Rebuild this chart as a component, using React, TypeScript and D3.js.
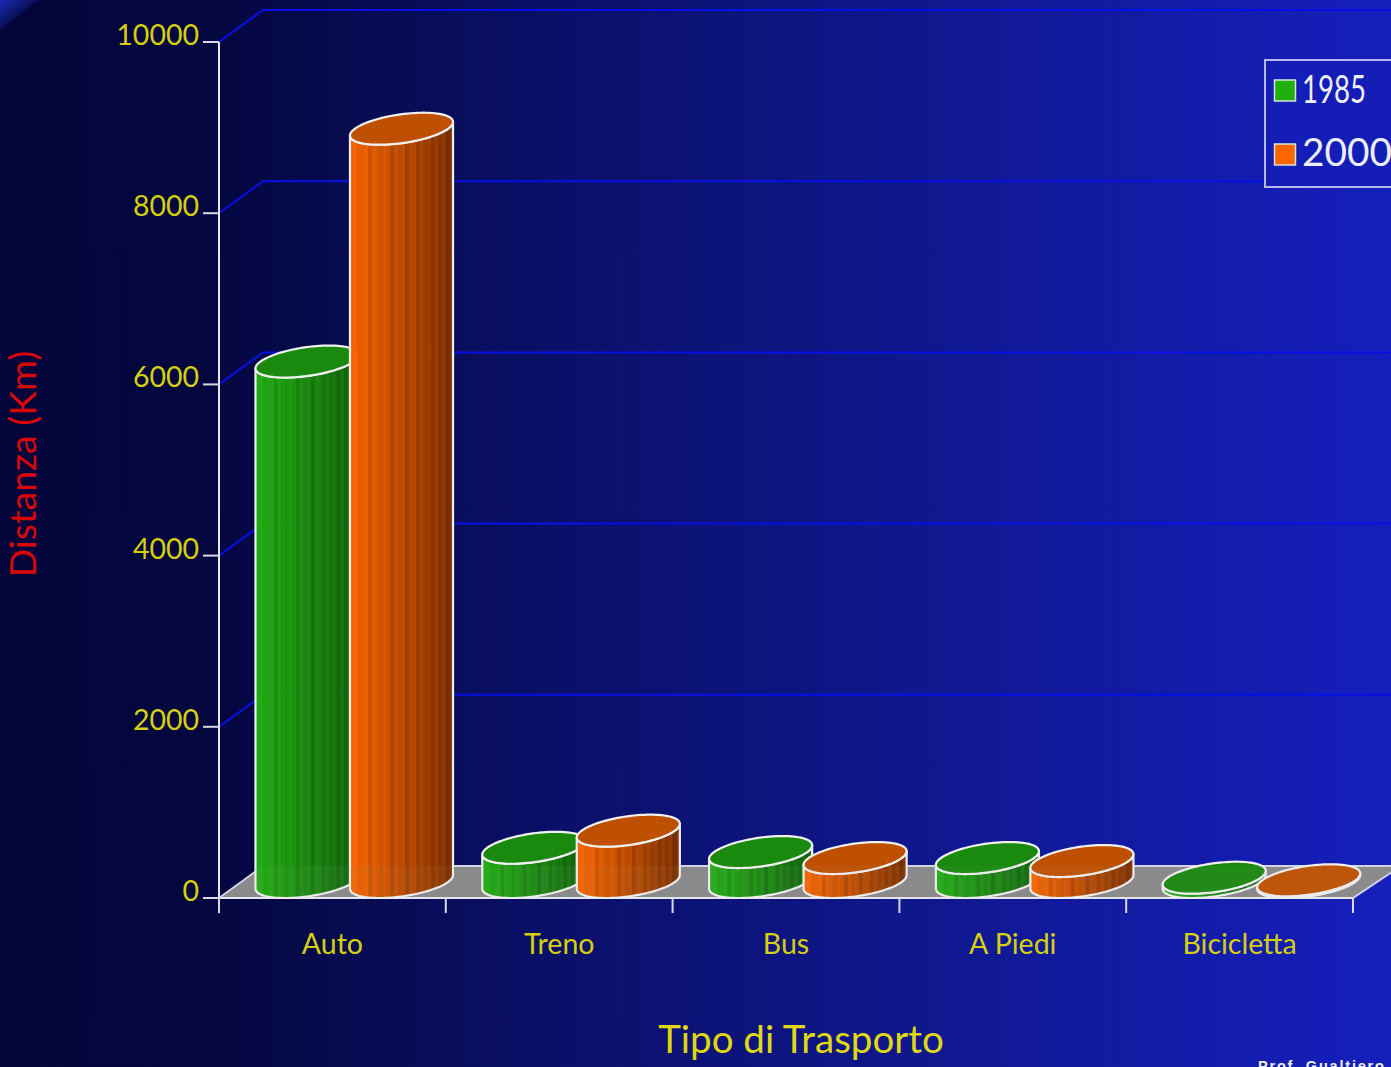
import React from "react";
import * as d3 from "d3";

// Distance travelled per transport mode, in km
const categories = ["Auto", "Treno", "Bus", "A Piedi", "Bicicletta"];
const seriesNames = ["1985", "2000"];
const values1985 = [6080, 400, 350, 280, 50];
const values2000 = [8800, 600, 280, 245, 20];
const yTicks = [0, 2000, 4000, 6000, 8000, 10000];

// Relative brightness of the cylinder facets, left to right
const facetShade = [
  0, 0.03, -0.03, 0, 0.04, -0.09, 0.03, 0, -0.04, 0.04, 0, -0.11, 0.03, -0.03, 0.03,
  -0.13, 0.02, 0.03, -0.09, 0.03, -0.06, 0.02, -0.12, 0.03, -0.07, 0.02, -0.14, 0,
];

const WIDTH = 1391;
const HEIGHT = 1067;
const FONT = "Lato, 'Noto Sans', sans-serif";
const YELLOW = "#d6cf0c";

// Oblique projection of the depth axis
const depthX = 44;
const depthY = 32;
const halfW = 46.6;

const palette = [
  { bright: "#22ab14", dark: "#146a0e", top: "#1a8a0e", swatch: "#1fb010" },
  { bright: "#f56400", dark: "#853400", top: "#bf5000", swatch: "#ff6600" },
];

const x = d3.scaleBand<string>().domain(categories).range([219, 1353]);
const y = d3.scaleLinear().domain([0, 10000]).range([898, 42]);

const rimX = (cx: number, t: number) => cx + halfW * Math.cos(t) + (depthX / 2) * Math.sin(t);
const rimY = (cy: number, t: number) => cy - (depthY / 2) * Math.sin(t);
const tRight = Math.atan2(depthX / 2, halfW);

const pathOf = d3.line<[number, number]>().curve(d3.curveLinear);

function rimArc(cx: number, cy: number, from: number, to: number, n: number): [number, number][] {
  return d3.range(n + 1).map((i) => {
    const t = from + ((to - from) * i) / n;
    return [rimX(cx, t), rimY(cy, t)] as [number, number];
  });
}

function Cylinder({ cx, value, s }: { cx: number; value: number; s: number }) {
  const baseY = y(0) - depthY / 2;
  const topY = y(value) - depthY / 2;
  const c = palette[s];
  const ramp = d3.interpolateRgb(c.bright, c.dark);
  const n = facetShade.length;
  // Visible front half of the rim, running from the left extreme to the right one
  const from = tRight - Math.PI;
  const to = tRight;
  const front = [...rimArc(cx, topY, to, from, 48), ...rimArc(cx, baseY, from, to, 48)];
  const facets = d3.range(n).map((i) => {
    const a = (Math.acos(1 - (2 * i) / n) / Math.PI) * (to - from) + from;
    const b = (Math.acos(1 - (2 * (i + 1)) / n) / Math.PI) * (to - from) + from;
    const col = d3.hsl(ramp(i / (n - 1)));
    col.l = col.l * (1 + facetShade[i]);
    const pts: [number, number][] = [
      [rimX(cx, a), rimY(topY, a)],
      [rimX(cx, b) + 0.5, rimY(topY, b)],
      [rimX(cx, b) + 0.5, rimY(baseY, b)],
      [rimX(cx, a), rimY(baseY, a)],
    ];
    return <path key={i} d={pathOf(pts) + "Z"} fill={col.formatHex()} />;
  });
  const topRim = rimArc(cx, topY, 0, 2 * Math.PI, 96);
  return (
    <g>
      {facets}
      <path d={pathOf(front) + "Z"} fill="none" stroke="#f0f0f0" strokeWidth={2.2} strokeLinejoin="round" />
      <path d={pathOf(topRim) + "Z"} fill={c.top} stroke="#f0f0f0" strokeWidth={2.2} strokeLinejoin="round" />
    </g>
  );
}

export default function App() {
  const edges = [...categories.map((d) => x(d) as number), 1353];
  const floor: [number, number][] = [
    [219, y(0)],
    [219 + depthX, y(0) - depthY],
    [WIDTH + 10, y(0) - depthY],
    [1353, y(0)],
  ];
  const slot = 94.5;
  const firstCentre = 36.5 + 51.5;
  return (
    <svg
      width={WIDTH}
      height={HEIGHT}
      viewBox={`0 0 ${WIDTH} ${HEIGHT}`}
      style={{ position: "absolute", left: 0, top: 0, display: "block" }}
      fontFamily={FONT}
    >
      <defs>
        <linearGradient id="bg" x1="0" x2="1" y1="0" y2="0">
          <stop offset="0" stopColor="#03053a" />
          <stop offset="0.15" stopColor="#04073f" />
          <stop offset="0.4" stopColor="#0a1068" />
          <stop offset="0.7" stopColor="#101893" />
          <stop offset="1" stopColor="#151fbc" />
        </linearGradient>
        <linearGradient id="corner" gradientUnits="userSpaceOnUse" x1={0} y1={0} x2={19} y2={24}>
          <stop offset="0" stopColor="#1c2cb8" />
          <stop offset="1" stopColor="#1c2cb8" stopOpacity={0} />
        </linearGradient>
      </defs>
      <rect width={WIDTH} height={HEIGHT} fill="url(#bg)" />
      <path d="M0,0H38L0,30Z" fill="url(#corner)" />

      {/* back wall grid */}
      {yTicks.filter((t) => t > 0).map((t) => (
        <path
          key={t}
          d={`M219,${y(t)}L${219 + depthX},${y(t) - depthY}H${WIDTH}`}
          fill="none"
          stroke="#0610e6"
          strokeWidth={2}
        />
      ))}

      {/* floor */}
      <path d={pathOf(floor) + "Z"} fill="#888888" stroke="#d4d6ee" strokeWidth={1.8} />

      {/* axes */}
      <path d={`M219,${y(10000)}V913`} stroke="#e8e8f4" strokeWidth={2} fill="none" />
      <path d={`M203,${y(0)}H1353`} stroke="#e8e8f4" strokeWidth={2} fill="none" />
      {yTicks.map((t) => (
        <g key={t}>
          <path d={`M203,${y(t)}H219`} stroke="#d8d8e8" strokeWidth={2} />
          <text x={199} y={y(t) + 3} textAnchor="end" fontSize={28.5} fill={YELLOW}>
            {t}
          </text>
        </g>
      ))}
      {edges.map((e) => (
        <path key={e} d={`M${e},${y(0)}V913`} stroke="#d8d8e8" strokeWidth={2} />
      ))}

      {/* cylinders */}
      {categories.map((cat, i) => (
        <g key={cat}>
          <Cylinder cx={(x(cat) as number) + firstCentre} value={values1985[i]} s={0} />
          <Cylinder cx={(x(cat) as number) + firstCentre + slot} value={values2000[i]} s={1} />
        </g>
      ))}
      <path d={pathOf(floor) + "Z"} fill="#a8a8a8" opacity={0.06} />

      {/* category labels */}
      {categories.map((cat) => (
        <text
          key={cat}
          x={(x(cat) as number) + (x.bandwidth() / 2)}
          y={954}
          textAnchor="middle"
          fontSize={28.5}
          fill={YELLOW}
        >
          {cat}
        </text>
      ))}

      {/* axis titles */}
      <text x={801} y={1053} textAnchor="middle" fontSize={38.5} fill="#e0d810">
        Tipo di Trasporto
      </text>
      <text
        transform="translate(36,464) rotate(-90)"
        textAnchor="middle"
        fontSize={37.5}
        fill="#d80808"
      >
        Distanza (Km)
      </text>

      {/* legend */}
      <rect x={1265} y={60} width={140} height={127} fill="#141db6" stroke="#b4b8ec" strokeWidth={2} />
      {seriesNames.map((name, i) => (
        <g key={name}>
          <rect
            x={1274.5}
            y={i === 0 ? 80 : 144}
            width={21}
            height={21}
            fill={palette[i].swatch}
            stroke="#d8e4d8"
            strokeWidth={1.5}
          />
          <text
            x={1302}
            y={i === 0 ? 103 : 166}
            fontSize={38}
            fill="#eeeeff"
            textLength={i === 0 ? 64 : 90}
            lengthAdjust="spacingAndGlyphs"
          >
            {name}
          </text>
        </g>
      ))}

      <text x={1258} y={1071} fontSize={14.5} fontWeight={700} fill="#f0f0f0" letterSpacing={1.8} fontFamily="'Liberation Sans', sans-serif">
        Prof. Gualtiero
      </text>
    </svg>
  );
}
